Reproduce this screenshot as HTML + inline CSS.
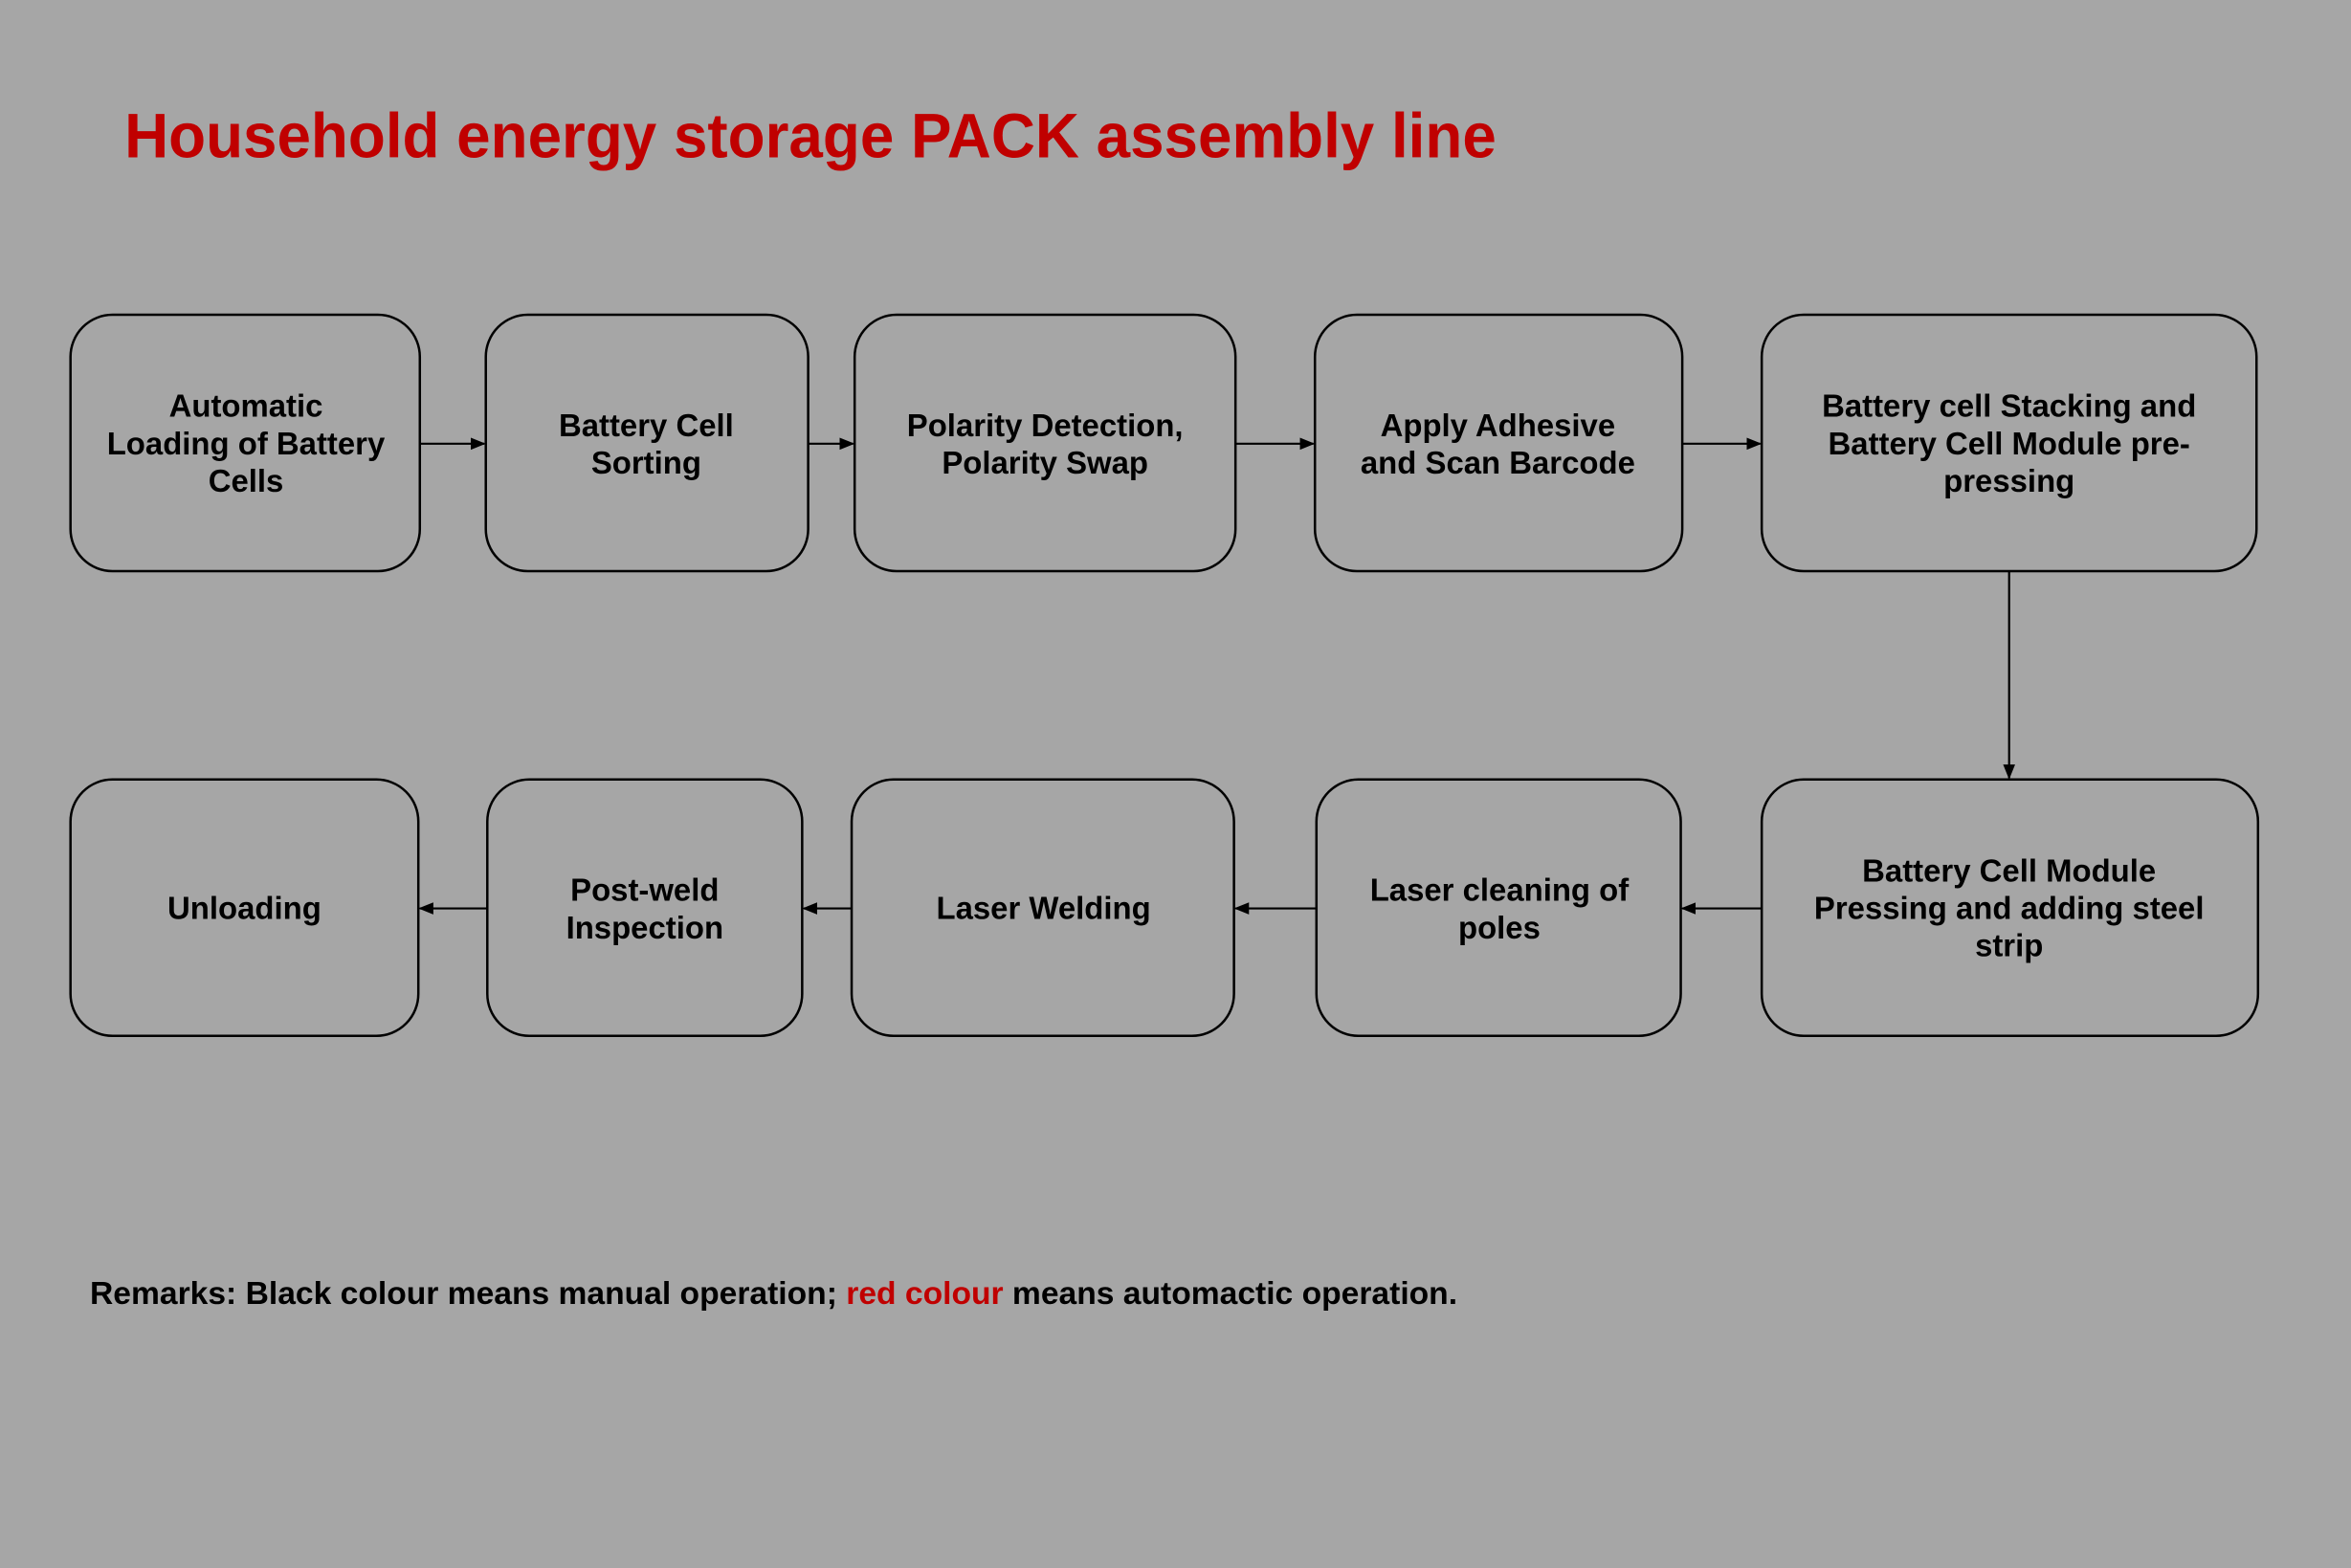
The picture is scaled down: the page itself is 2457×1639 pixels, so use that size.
<!DOCTYPE html>
<html><head><meta charset="utf-8"><style>
html,body{margin:0;padding:0;background:#a6a6a6;}
svg{display:block}
text{font-family:"Liberation Sans",sans-serif;font-weight:bold;}
</style></head><body>
<svg width="2457" height="1639" viewBox="0 0 1568 1046" xmlns="http://www.w3.org/2000/svg">
<defs><marker id="a" markerWidth="10" markerHeight="10" refX="9" refY="5" orient="auto" markerUnits="userSpaceOnUse"><path d="M0,1 L10,5 L0,9 z" fill="#000"/></marker></defs>
<rect width="1568" height="1046" fill="#a6a6a6"/>
<text x="83" y="105" font-size="42" fill="#c00000" textLength="915" lengthAdjust="spacingAndGlyphs">Household energy storage PACK assembly line</text>
<g fill="none" stroke="#000" stroke-width="1.6">
<rect x="47" y="210" width="233" height="171" rx="28"/>
<rect x="324" y="210" width="215" height="171" rx="28"/>
<rect x="570" y="210" width="254" height="171" rx="28"/>
<rect x="877" y="210" width="245" height="171" rx="28"/>
<rect x="1175" y="210" width="330" height="171" rx="28"/>
<rect x="47" y="520" width="232" height="171" rx="28"/>
<rect x="325" y="520" width="210" height="171" rx="28"/>
<rect x="568" y="520" width="255" height="171" rx="28"/>
<rect x="878" y="520" width="243" height="171" rx="28"/>
<rect x="1175" y="520" width="331" height="171" rx="28"/>
<g stroke-width="1.4" marker-end="url(#a)">
<line x1="280" y1="296" x2="323" y2="296"/>
<line x1="539" y1="296" x2="569" y2="296"/>
<line x1="824" y1="296" x2="876" y2="296"/>
<line x1="1122" y1="296" x2="1174" y2="296"/>
<line x1="1340" y1="381" x2="1340" y2="519"/>
<line x1="1175" y1="606" x2="1122" y2="606"/>
<line x1="878" y1="606" x2="824" y2="606"/>
<line x1="568" y1="606" x2="536" y2="606"/>
<line x1="325" y1="606" x2="280" y2="606"/>
</g></g>
<g font-size="21" fill="#000" text-anchor="middle">
<text x="164" y="278">Automatic</text><text x="164" y="303">Loading of Battery</text><text x="164" y="328">Cells</text>
<text x="431" y="291">Battery Cell</text><text x="431" y="316">Sorting</text>
<text x="697" y="291">Polarity Detection,</text><text x="697" y="316">Polarity Swap</text>
<text x="999" y="291">Apply Adhesive</text><text x="999" y="316">and Scan Barcode</text>
<text x="1340" y="278">Battery cell Stacking and</text><text x="1340" y="303">Battery Cell Module pre-</text><text x="1340" y="328">pressing</text>
<text x="163" y="613">Unloading</text>
<text x="430" y="601">Post-weld</text><text x="430" y="626">Inspection</text>
<text x="696" y="613">Laser Welding</text>
<text x="1000" y="601">Laser cleaning of</text><text x="1000" y="626">poles</text>
<text x="1340" y="588">Battery Cell Module</text><text x="1340" y="613">Pressing and adding steel</text><text x="1340" y="638">strip</text>
</g>
<text x="60" y="870" font-size="21" fill="#000" textLength="912" lengthAdjust="spacingAndGlyphs">Remarks: Black colour means manual operation; <tspan fill="#c00000">red colour</tspan> means automactic operation.</text>
</svg>
</body></html>
